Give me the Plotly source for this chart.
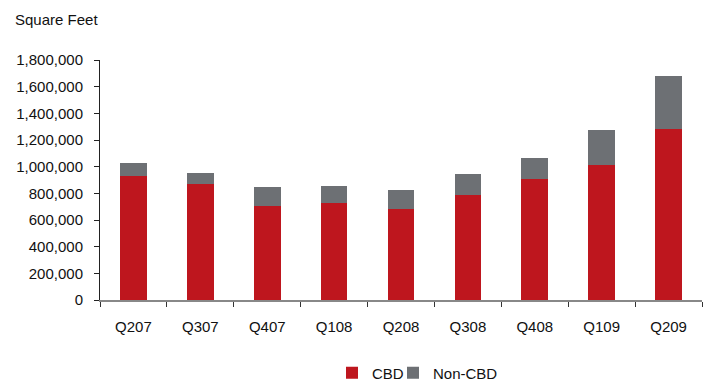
import plotly.graph_objects as go

quarters = ["Q207", "Q307", "Q407", "Q108", "Q208", "Q308", "Q408", "Q109", "Q209"]
cbd = [930000, 870000, 705000, 727500, 682500, 787500, 907500, 1012500, 1282500]
non_cbd = [95000, 82500, 142500, 127500, 142500, 157500, 157500, 262500, 397500]
y_ticks = [0, 200000, 400000, 600000, 800000, 1000000, 1200000, 1400000, 1600000, 1800000]

RED = "#BE161E"
GRAY = "#6D7074"
FONT = "Liberation Sans, Arial, sans-serif"

fig = go.Figure()
fig.add_trace(go.Bar(x=quarters, y=cbd, name="CBD", legend="legend",
                     marker=dict(color=RED, line=dict(width=0))))
fig.add_trace(go.Bar(x=quarters, y=non_cbd, name="Non-CBD", legend="legend2",
                     marker=dict(color=GRAY, line=dict(width=0))))

leg_common = dict(orientation="h", xref="container", yref="container",
                  xanchor="left", y=(381 - 373) / 381, yanchor="middle",
                  font=dict(size=15), itemwidth=30, bgcolor="rgba(0,0,0,0)")

fig.update_layout(
    width=712, height=381,
    barmode="stack", bargap=0.6,
    margin=dict(l=100, r=10, t=60, b=81, autoexpand=False),
    paper_bgcolor="white", plot_bgcolor="white",
    font=dict(family=FONT, size=15, color="#111111"),
    showlegend=True,
    legend=dict(x=332 / 712, **leg_common),
    legend2=dict(x=393 / 712, **leg_common),
)
fig.add_annotation(text="Square Feet", xref="paper", yref="paper",
                   x=-87 / 602, y=1 + 40 / 240, xanchor="left", yanchor="middle",
                   showarrow=False, font=dict(size=15))

fig.update_yaxes(range=[0, 1800000], tickvals=y_ticks,
                 ticktext=[f"{v:,}" for v in y_ticks],
                 showgrid=False, zeroline=False,
                 showline=True, linecolor="#222222", linewidth=1,
                 ticks="outside", ticklen=5, tickcolor="#222222",
                 ticklabelstandoff=8)
fig.update_xaxes(showgrid=False, showline=True, linecolor="#888888", linewidth=2,
                 ticks="outside", ticklen=5, tickcolor="#333333",
                 tickson="boundaries", ticklabelstandoff=12)

fig.write_html("out.html")
